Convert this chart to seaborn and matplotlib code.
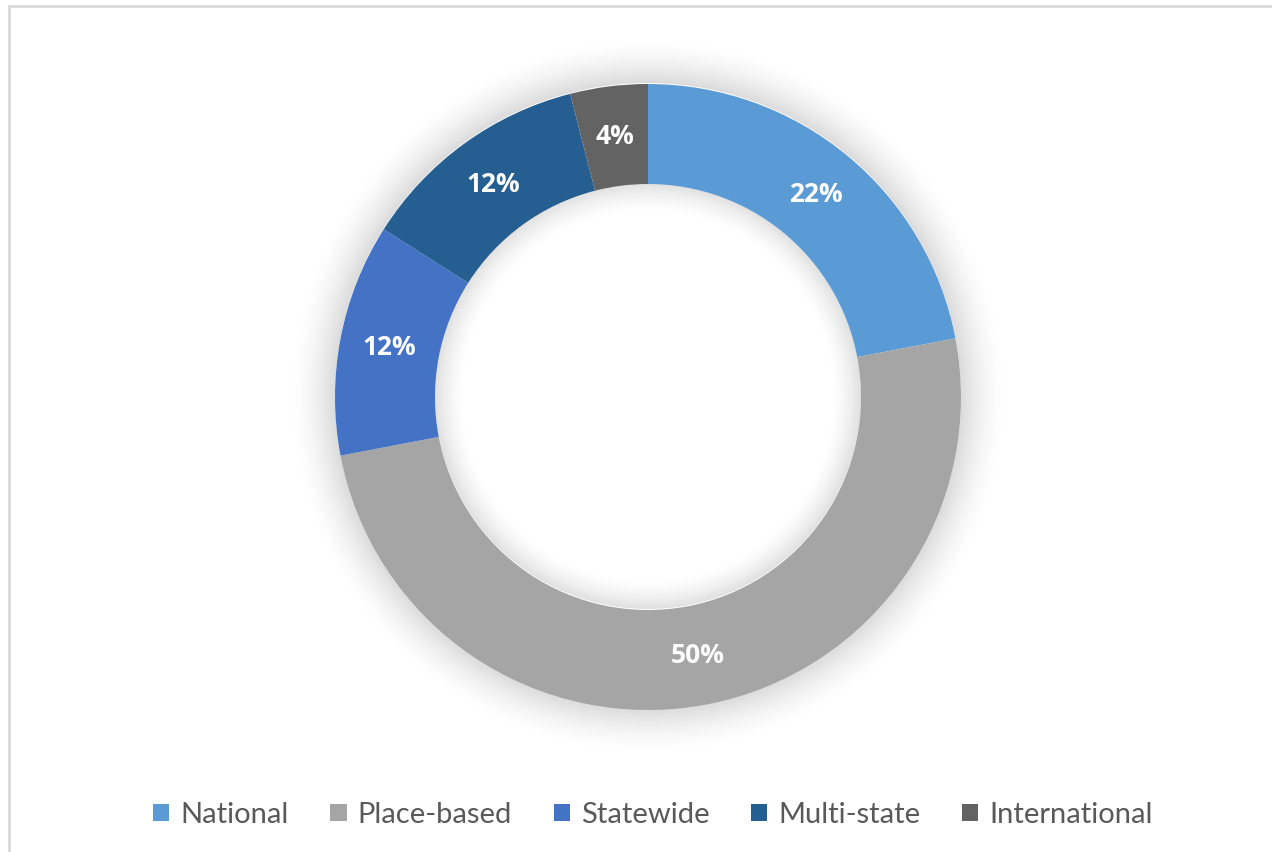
import matplotlib
matplotlib.use("Agg")
import matplotlib.pyplot as plt
from matplotlib.patches import Wedge, Rectangle
from matplotlib.lines import Line2D
import numpy as np
import seaborn as sns

categories = ["National", "Place-based", "Statewide", "Multi-state", "International"]
values = [22, 50, 12, 12, 4]
labels = ["22%", "50%", "12%", "12%", "4%"]
colors = ["#5B9BD5", "#A5A5A5", "#4472C4", "#255E91", "#636363"]

sns.set_theme(style="white")
plt.rcParams["font.family"] = ["Lato", "DejaVu Sans"]

W, H = 1272, 852
fig = plt.figure(figsize=(W / 100, H / 100), dpi=100)
ax = fig.add_axes([0, 0, 1, 1])

cx, cy = 648, H - 397
R, r = 313, 213

# soft shadow around the ring (outside and inside the hole)
step = 1.5
d = 0.0
while d < 44:
    a = 0.14 * (1 - d / 44) ** 1.6
    ax.add_patch(Wedge((cx, cy + 1), R + d + step, 0, 360, width=step,
                       facecolor="black", alpha=a, edgecolor="none", zorder=0))
    d += step
d = 0.0
while d < 30:
    a = 0.12 * (1 - d / 30) ** 1.6
    ax.add_patch(Wedge((cx, cy + 1), r - d, 0, 360, width=step,
                       facecolor="black", alpha=a, edgecolor="none", zorder=0))
    d += step

wedges, _ = ax.pie(values, colors=colors, startangle=90, counterclock=False,
                   center=(cx, cy), radius=R,
                   wedgeprops=dict(width=R - r, edgecolor="none", zorder=2))

tot = sum(values)
ang = 90.0
for v, lab in zip(values, labels):
    mid = ang - v / tot * 360 / 2
    ang -= v / tot * 360
    rr = (R + r) / 2
    ax.text(cx + rr * np.cos(np.radians(mid)), cy + rr * np.sin(np.radians(mid)), lab,
            ha="center", va="center", color="white", fontsize=19, fontweight="bold",
            family=["Open Sans", "DejaVu Sans"], zorder=5)

ax.set_xlim(0, W)
ax.set_ylim(0, H)
ax.set_aspect("equal")
ax.axis("off")

# frame lines (left and top)
fig.add_artist(Line2D([8.5 / W, 8.5 / W], [0, 1 - 5.5 / H], transform=fig.transFigure, color="#D9D9D9", lw=2))
fig.add_artist(Line2D([8.5 / W, 1], [1 - 5.5 / H, 1 - 5.5 / H], transform=fig.transFigure, color="#D9D9D9", lw=2))

handles = [Rectangle((0, 0), 1, 1, facecolor=c, edgecolor="none") for c in colors]
leg = fig.legend(handles, categories, loc="center", bbox_to_anchor=(653 / W, 1 - 815 / H),
                 ncol=5, frameon=False, fontsize=21, handlelength=0.55, handleheight=0.55,
                 handletextpad=0.38, columnspacing=1.43, labelcolor="#595959")

fig.savefig("out.png", dpi=100, facecolor="white")
